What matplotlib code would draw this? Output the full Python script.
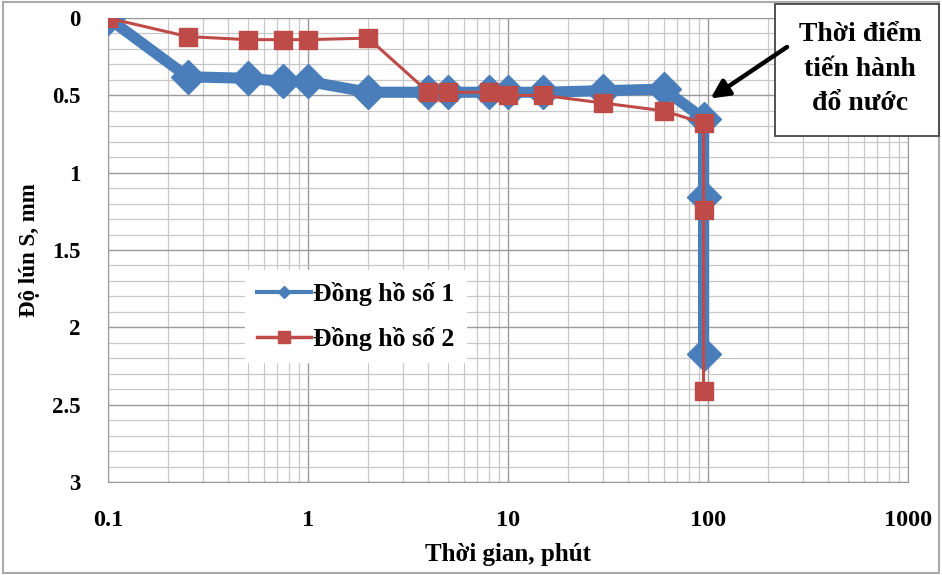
import numpy as np
import matplotlib
matplotlib.use("Agg")
import matplotlib.pyplot as plt
from matplotlib.lines import Line2D
from matplotlib.patches import Rectangle, ConnectionPatch
from matplotlib.ticker import FixedLocator, FixedFormatter, LogLocator, NullFormatter

plt.rcParams['font.family'] = ['Liberation Serif', 'DejaVu Serif']
plt.rcParams['font.weight'] = 'bold'

# time (minutes) and settlement (mm) for both gauges
t1 = [0.1, 0.25, 0.5, 0.75, 1, 2, 4, 5, 8, 10, 15, 30, 60, 95, 95, 95]
s1 = [0.0, 0.38, 0.39, 0.41, 0.41, 0.48, 0.48, 0.48, 0.48, 0.48, 0.48, 0.47, 0.46, 0.65, 1.16, 2.17]
t2 = [0.1, 0.25, 0.5, 0.75, 1, 2, 4, 5, 8, 10, 15, 30, 60, 95, 95, 95]
s2 = [0.0, 0.12, 0.14, 0.14, 0.14, 0.13, 0.48, 0.48, 0.48, 0.50, 0.50, 0.55, 0.60, 0.68, 1.24, 2.41]
names = ["Đồng hồ số 1", "Đồng hồ số 2"]
y_ticks = [0, 0.5, 1, 1.5, 2, 2.5, 3]
y_labels = ["0", "0.5", "1", "1.5", "2", "2.5", "3"]
x_ticks = [0.1, 1, 10, 100, 1000]
x_labels = ["0.1", "1", "10", "100", "1000"]

blue = "#4a7ebb"
red = "#be4b48"
W, H = 942, 575

fig = plt.figure(figsize=(9.42, 5.75), dpi=100)
ax = fig.add_axes([108 / W, 1 - 482 / H, 800 / W, 464 / H])

ax.plot(t1, s1, color=blue, lw=8, marker="D", ms=17.5, mfc=blue, mec=blue,
        solid_joinstyle="round", zorder=3)
ax.plot(t2, s2, color=red, lw=2.2, marker="s", ms=12.5, mfc=red, mec=red, zorder=4)

ax.set_xscale("log")
ax.set_xlim(0.1, 1000)
ax.set_ylim(3, 0)

ax.xaxis.set_major_locator(FixedLocator(x_ticks))
ax.xaxis.set_major_formatter(FixedFormatter(x_labels))
ax.xaxis.set_minor_locator(LogLocator(base=10, subs=np.arange(2, 10)))
ax.xaxis.set_minor_formatter(NullFormatter())
ax.yaxis.set_major_locator(FixedLocator(y_ticks))
ax.yaxis.set_major_formatter(FixedFormatter(y_labels))
ax.yaxis.set_minor_locator(FixedLocator(np.arange(0, 3.01, 0.1)))

ax.grid(which="major", color="#9a9a9a", lw=1.0)
ax.grid(which="minor", color="#c8c8c8", lw=0.9)
ax.set_axisbelow(True)
for sp in ax.spines.values():
    sp.set_color("#9a9a9a")
ax.tick_params(which="both", length=0)
ax.tick_params(axis="y", pad=20, labelsize=16.5)
ax.tick_params(axis="x", pad=20, labelsize=17.5)

ax.set_xlabel("Thời gian, phút", fontsize=18, fontweight="bold", labelpad=9)
ax.set_ylabel("Độ lún S, mm", fontsize=16.5, fontweight="bold", labelpad=8)

handles = [Line2D([], [], color=blue, lw=3, marker="D", ms=6),
           Line2D([], [], color=red, lw=2.5, marker="s", ms=9)]
leg = ax.legend(handles, names, loc="upper left",
                bbox_to_anchor=((245 - 108) / 800, (482 - 270) / 464),
                fontsize=18.5, frameon=True, fancybox=False, edgecolor="white",
                framealpha=1, handlelength=2.1, handletextpad=0.1,
                borderpad=0.45, labelspacing=0.82, borderaxespad=0)

# callout box with arrow
fig.patches.append(Rectangle((775 / W, 1 - 136 / H), 164 / W, 132 / H,
                             transform=fig.transFigure, fc="white", ec="#444444",
                             lw=1.3, zorder=5))
fig.text(860 / W, 1 - 69 / H, "Thời điểm\ntiến hành\nđổ nước", ha="center", va="center",
         fontsize=20, fontweight="bold", linespacing=1.5, zorder=6)
arrow = ConnectionPatch(xyA=(787 / W, 1 - 47 / H), coordsA="figure fraction",
                        xyB=(103, 0.52), coordsB=ax.transData,
                        arrowstyle="-|>,head_length=1.1,head_width=0.55",
                        color="black", lw=3.2, zorder=7)
fig.add_artist(arrow)

fig.patches.append(Rectangle((0.003, 0.003), 0.994, 0.994, transform=fig.transFigure,
                             fill=False, ec="#aaaaaa", lw=1.5))

fig.savefig("out.png", dpi=100)
